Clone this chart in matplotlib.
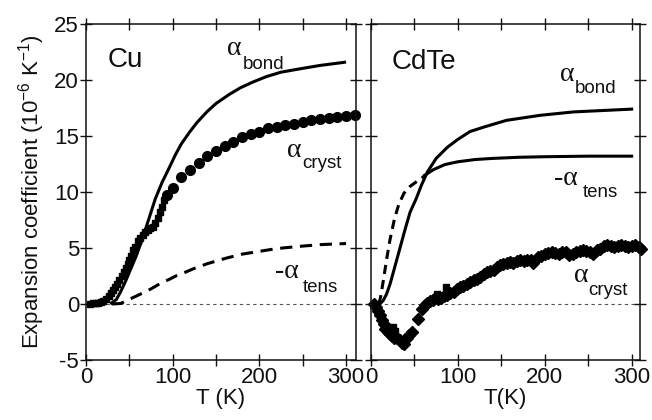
import numpy as np
import matplotlib
matplotlib.use('Agg')
import matplotlib.pyplot as plt

plt.rcParams['font.family'] = ['Liberation Sans', 'DejaVu Sans']
plt.rcParams['mathtext.default'] = 'regular'
plt.rcParams['axes.unicode_minus'] = False

# ---- Cu ----
cu_bond_T = [28, 35, 40, 46, 52, 58, 64, 70, 80, 88, 95, 103, 110, 120, 128, 140, 150, 165, 178, 192, 208, 225, 247, 270, 300]
cu_bond_v = [0.0, 0.4, 1.1, 2.1, 3.2, 4.3, 5.6, 7.0, 9.4, 10.9, 12.0, 13.3, 14.3, 15.4, 16.2, 17.2, 17.9, 18.7, 19.3, 19.8, 20.3, 20.7, 21.0, 21.3, 21.6]

cu_tens_T = [30, 40, 47, 55, 66, 75, 85, 96, 105, 115, 124, 140, 162, 180, 200, 220, 247, 270, 300]
cu_tens_v = [0.0, 0.05, 0.3, 0.6, 1.0, 1.35, 1.8, 2.2, 2.55, 2.85, 3.15, 3.6, 4.1, 4.45, 4.7, 4.95, 5.15, 5.3, 5.4]

cu_sq_T = [5, 8, 11, 14, 17, 20, 23, 26, 29, 31, 34, 36, 38.5, 41, 43.5, 46, 48, 50, 52, 54, 56.5, 59.5, 62.5, 65.5, 68.5, 71, 74, 77, 80, 82.7, 85.5, 87.7, 90.4]
cu_sq_v = [0.0, 0.05, 0.05, 0.1, 0.15, 0.25, 0.45, 0.7, 1.0, 1.25, 1.5, 1.8, 2.1, 2.5, 2.9, 3.2, 3.6, 3.9, 4.3, 4.8, 5.1, 5.6, 5.9, 6.2, 6.4, 6.6, 6.8, 6.9, 7.2, 7.65, 8.2, 8.7, 9.3]

cu_circ_T = [93, 100, 110, 120, 130, 140, 150, 160, 170, 180, 190, 200, 210, 220, 230, 240, 250, 260, 270, 280, 290, 300, 310]
cu_circ_v = [9.7, 10.4, 11.3, 12.0, 12.6, 13.2, 13.7, 14.1, 14.5, 14.9, 15.2, 15.4, 15.7, 15.8, 16.0, 16.1, 16.25, 16.4, 16.5, 16.6, 16.7, 16.8, 16.9]

# ---- CdTe ----
cd_bond_T = [10, 14, 18, 22, 27, 33, 39, 45, 52, 58, 65, 75, 88, 100, 114, 130, 156, 195, 233, 300]
cd_bond_v = [0.0, 0.3, 0.9, 1.8, 3.2, 4.9, 6.6, 8.2, 9.4, 10.6, 11.8, 13.0, 14.0, 14.7, 15.4, 15.8, 16.4, 16.85, 17.15, 17.4]

cd_tens_dash_T = [9, 11, 14, 18, 22, 27, 32, 38, 45, 52, 58, 62]
cd_tens_dash_v = [0.0, 0.6, 2.0, 4.0, 5.8, 7.6, 8.9, 9.9, 10.5, 10.9, 11.2, 11.5]
cd_tens_T = [62, 72, 85, 100, 120, 140, 170, 200, 250, 300]
cd_tens_v = [11.5, 12.0, 12.45, 12.7, 12.9, 13.0, 13.1, 13.15, 13.2, 13.2]

cd_dia_T = [3, 6, 8.5, 10.5, 12.5, 14.5, 16.5, 19, 22, 24, 27, 30, 33, 36, 38, 41, 44, 47,
            54.5, 58.5, 62, 65, 68, 71, 74, 77, 80, 84, 88, 91, 95, 99, 102, 106, 110, 114, 118,
            122, 126, 130, 134, 137, 141, 145, 148, 152, 156, 160, 164, 168, 172, 176, 180, 184,
            186, 192, 196, 200, 204, 208, 212, 216, 220, 224, 228, 232, 236, 240, 244, 248, 252,
            256, 260, 264, 268, 272, 276, 280, 284, 288, 292, 296, 300, 304, 308, 311]
cd_dia_v = [0.0, -0.3, -0.6, -1.0, -1.4, -1.8, -2.2, -2.5, -2.7, -2.9, -3.0, -3.0, -3.2, -3.5, -3.6, -3.0, -2.8, -2.5,
            -1.3, -0.45, -0.1, 0.05, 0.25, 0.35, 0.5, 0.45, 0.5, 0.75, 0.8, 1.0, 1.1, 1.3, 1.5, 1.65, 1.8, 2.0, 2.1,
            2.25, 2.4, 2.7, 2.85, 2.95, 3.0, 3.3, 3.45, 3.6, 3.7, 3.75, 3.7, 3.85, 3.9, 3.8, 3.95, 3.9,
            3.7, 4.2, 4.25, 4.5, 4.55, 4.65, 4.55, 4.5, 4.6, 4.65, 4.4, 4.5, 4.65, 4.75, 4.8, 4.7, 4.6,
            4.5, 4.8, 4.95, 5.15, 5.25, 5.15, 5.1, 5.2, 5.25, 5.15, 5.1, 5.2, 5.25, 5.1, 4.95]
cd_sq_T = [25.7, 28, 75.6, 86.3]
cd_sq_v = [-2.05, -2.4, 0.92, 1.5]

xticks = [0, 50, 100, 150, 200, 250, 300]
xticklabels = ['0', '', '100', '', '200', '', '300']
yticks = [-5, 0, 5, 10, 15, 20, 25]

W, H = 652, 420
fig = plt.figure(figsize=(W / 100, H / 100), dpi=100)
ax1 = fig.add_axes([86 / W, 1 - 360 / H, 270 / W, 336 / H])
ax2 = fig.add_axes([371 / W, 1 - 360 / H, 269 / W, 336 / H])


def style(ax, xmax):
	ax.set_xlim(0, xmax)
	ax.set_ylim(-5, 25)
	ax.set_xticks(xticks)
	ax.set_xticklabels(xticklabels)
	ax.set_yticks(yticks)
	ax.tick_params(direction='inout', length=8, width=1.0, top=True, right=True,
				   labelsize=16, pad=1, color='#111111', labelcolor='#111111')
	for s in ax.spines.values():
		s.set_linewidth(1.1)
		s.set_color('#111111')
	ax.axhline(0, color='#555555', lw=0.8, dashes=(3, 3), zorder=1)


def alpha_label(ax, x, y, sub, sx, sy, minus=False):
	ax.text(x, y, ('-' if minus else '') + 'α', family=['Liberation Serif', 'DejaVu Serif'],
			fontsize=20, ha='left', va='baseline', color='#111111')
	ax.text(sx, sy, sub, fontsize=13.5, ha='left', va='baseline', color='#111111')


style(ax1, 311.5)
style(ax2, 309.6)

# Cu panel
ax1.plot(cu_bond_T, cu_bond_v, color='black', lw=2.2, solid_capstyle='butt')
ax1.plot(cu_tens_T, cu_tens_v, color='black', lw=2.2, dashes=(4, 2.5))
ax1.plot(cu_sq_T, cu_sq_v, 's', color='black', ms=5, clip_on=False)
ax1.plot(cu_circ_T, cu_circ_v, 'o', color='black', ms=7, clip_on=False)
ax1.text(25, 21.2, 'Cu', fontsize=20, ha='left', va='baseline', color='#111111')
alpha_label(ax1, 163, 22.2, 'bond', 181, 21.0)
alpha_label(ax1, 232, 13.1, 'cryst', 249, 12.1)
alpha_label(ax1, 218, 2.3, 'tens', 250.5, 1.1, minus=True)
ax1.set_xlabel('T (K)', fontsize=16, labelpad=0, color='#111111')
ax1.set_ylabel('Expansion coefficient (10$^{-6}$ K$^{-1}$)', fontsize=16, labelpad=5, color='#111111')

# CdTe panel
ax2.plot(cd_bond_T, cd_bond_v, color='black', lw=2.2)
ax2.plot(cd_tens_dash_T, cd_tens_dash_v, color='black', lw=2.2, dashes=(3, 2))
ax2.plot(cd_tens_T, cd_tens_v, color='black', lw=2.2)
ax2.plot(cd_dia_T, cd_dia_v, 'D', color='black', ms=6, clip_on=False)
ax2.plot(cd_sq_T, cd_sq_v, 's', color='black', ms=5)
ax2.set_yticklabels([])
ax2.text(24, 21.0, 'CdTe', fontsize=20, ha='left', va='baseline', color='#111111')
alpha_label(ax2, 217.5, 19.95, 'bond', 234, 18.8)
alpha_label(ax2, 211, 10.6, 'tens', 244, 9.55, minus=True)
alpha_label(ax2, 234, 1.95, 'cryst', 250, 0.8)
ax2.set_xlabel('T(K)', fontsize=16, labelpad=0, color='#111111')

fig.savefig('out.png', dpi=100)
